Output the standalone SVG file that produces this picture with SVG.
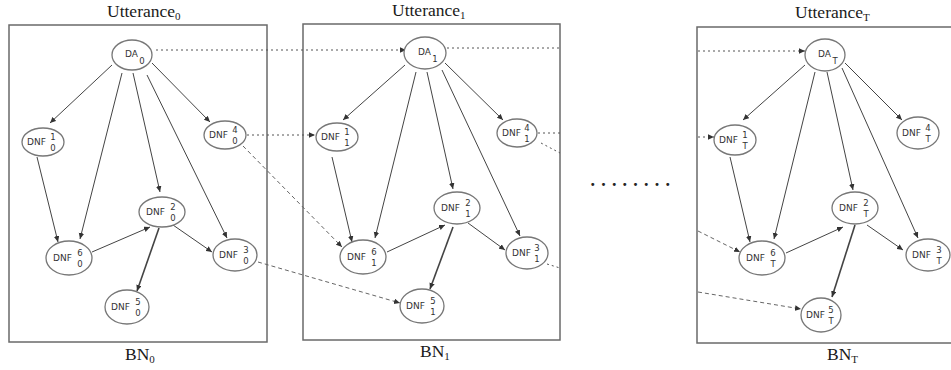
<svg xmlns="http://www.w3.org/2000/svg" width="951" height="370" viewBox="0 0 951 370">
<style>
.frame{fill:none;stroke:#6a6a6a;stroke-width:1.5}
.title{font-family:"Liberation Serif",serif;font-size:17.5px;fill:#1a1a1a}
.tsub{font-size:11px}
.node ellipse{fill:#fff;stroke:#777;stroke-width:1.3}
.lbl{font-family:"DejaVu Sans",sans-serif;font-size:9px;fill:#333}
.ix{font-family:"DejaVu Sans",sans-serif;font-size:8.5px;fill:#333;text-anchor:middle}
.e{fill:none;stroke:#444;stroke-width:1;marker-end:url(#ah)}
.thick{stroke-width:1.6}
.dot{fill:none;stroke:#555;stroke-width:1;stroke-dasharray:2 3}
.dash{fill:none;stroke:#666;stroke-width:1;stroke-dasharray:4 3}
.dots{font-family:"Liberation Serif",serif;font-size:18px;font-weight:bold;fill:#222;letter-spacing:6.2px}
</style>
<defs>
<marker id="ah" markerUnits="userSpaceOnUse" markerWidth="7" markerHeight="6" refX="6" refY="2.75" orient="auto">
<path d="M0,0 L6,2.75 L0,5.5 z" fill="#333"/>
</marker>
</defs>
<rect width="951" height="370" fill="#fff"/>

<g id="bn0">
<rect class="frame" x="9" y="25" width="258" height="317"/>
<text class="title" x="107" y="17">Utterance<tspan class="tsub" dy="3">0</tspan></text>
<text class="title" x="125" y="360">BN<tspan class="tsub" dy="3">0</tspan></text>
</g>
<g id="bn1">
<rect class="frame" x="303" y="24" width="257" height="316"/>
<text class="title" x="392" y="16">Utterance<tspan class="tsub" dy="3">1</tspan></text>
<text class="title" x="420" y="357">BN<tspan class="tsub" dy="3">1</tspan></text>
</g>
<g id="bnT">
<rect class="frame" x="697" y="27" width="262" height="316"/>
<text class="title" x="795" y="18">Utterance<tspan class="tsub" dy="3">T</tspan></text>
<text class="title" x="827" y="360">BN<tspan class="tsub" dy="3">T</tspan></text>
</g>
<text id="ellipsis" class="dots" x="590.5" y="186">........</text>

<g id="connectors">
<!-- BN0 -->
<line class="e" x1="112" y1="65" x2="50" y2="123"/>
<line class="e" x1="122" y1="73" x2="80" y2="239"/>
<line class="e" x1="133" y1="73" x2="160" y2="192"/>
<line class="e" x1="147" y1="75" x2="227" y2="238"/>
<line class="e" x1="152" y1="63" x2="210" y2="122"/>
<line class="e" x1="37" y1="157" x2="58" y2="242"/>
<line class="e" x1="92" y1="252" x2="150" y2="227"/>
<line class="e" x1="173" y1="225" x2="212" y2="252"/>
<line class="e thick" x1="159" y1="228" x2="137" y2="291"/>
<!-- BN1 -->
<line class="e" x1="405" y1="65" x2="343" y2="120"/>
<line class="e" x1="416" y1="72" x2="375" y2="238"/>
<line class="e" x1="427" y1="72" x2="453" y2="189"/>
<line class="e" x1="442" y1="70" x2="520" y2="236"/>
<line class="e" x1="445" y1="63" x2="503" y2="120"/>
<line class="e" x1="332" y1="157" x2="352" y2="242"/>
<line class="e" x1="387" y1="252" x2="445" y2="225"/>
<line class="e" x1="468" y1="223" x2="505" y2="250"/>
<line class="e thick" x1="453" y1="227" x2="430" y2="289"/>
<!-- BNT -->
<line class="e" x1="805" y1="65" x2="743" y2="120"/>
<line class="e" x1="815" y1="72" x2="774" y2="239"/>
<line class="e" x1="827" y1="72" x2="853" y2="190"/>
<line class="e" x1="842" y1="68" x2="918" y2="238"/>
<line class="e" x1="845" y1="63" x2="902" y2="120"/>
<line class="e" x1="730" y1="157" x2="750" y2="242"/>
<line class="e" x1="786" y1="253" x2="843" y2="227"/>
<line class="e" x1="867" y1="225" x2="903" y2="250"/>
<line class="e thick" x1="855" y1="225" x2="832" y2="297"/>
<!-- temporal links -->
<line class="dot" x1="156" y1="50" x2="406" y2="50" marker-end="url(#ah)"/>
<line class="dot" x1="447" y1="48" x2="560" y2="48"/>
<line class="dot" x1="247" y1="135" x2="315" y2="135" marker-end="url(#ah)"/>
<line class="dash" x1="243" y1="146" x2="342" y2="247" marker-end="url(#ah)"/>
<line class="dash" x1="258" y1="262" x2="400" y2="303" marker-end="url(#ah)"/>
<line class="dot" x1="538" y1="133" x2="560" y2="133"/>
<line class="dot" x1="541" y1="143" x2="560" y2="153"/>
<line class="dot" x1="547" y1="264" x2="560" y2="268"/>
<line class="dot" x1="698" y1="51" x2="805" y2="51" marker-end="url(#ah)"/>
<line class="dot" x1="698" y1="137" x2="714" y2="137" marker-end="url(#ah)"/>
<line class="dash" x1="698" y1="231" x2="740" y2="252" marker-end="url(#ah)"/>
<line class="dash" x1="698" y1="292" x2="801" y2="309" marker-end="url(#ah)"/>
</g>

<!-- BN0 nodes -->
<g id="da0" class="node"><ellipse cx="132" cy="55" rx="20" ry="15"/><text class="lbl" x="125" y="57">DA</text><text class="ix" x="142" y="64">0</text></g>
<g id="dnf0-1" class="node"><ellipse cx="43" cy="142" rx="21" ry="14"/><text class="lbl" x="27" y="145">DNF</text><text class="ix" x="53" y="140">1</text><text class="ix" x="53" y="151">0</text></g>
<g id="dnf0-4" class="node"><ellipse cx="225" cy="135" rx="21" ry="14"/><text class="lbl" x="209" y="138">DNF</text><text class="ix" x="235" y="133">4</text><text class="ix" x="235" y="144">0</text></g>
<g id="dnf0-2" class="node"><ellipse cx="162" cy="212" rx="23" ry="15"/><text class="lbl" x="146" y="215">DNF</text><text class="ix" x="173" y="210">2</text><text class="ix" x="173" y="221">0</text></g>
<g id="dnf0-6" class="node"><ellipse cx="69" cy="258" rx="23" ry="17"/><text class="lbl" x="53" y="261">DNF</text><text class="ix" x="80" y="256">6</text><text class="ix" x="80" y="267">0</text></g>
<g id="dnf0-3" class="node"><ellipse cx="235" cy="255" rx="22" ry="16"/><text class="lbl" x="219" y="258">DNF</text><text class="ix" x="246" y="253">3</text><text class="ix" x="246" y="264">0</text></g>
<g id="dnf0-5" class="node"><ellipse cx="127" cy="307" rx="22" ry="17"/><text class="lbl" x="111" y="310">DNF</text><text class="ix" x="138" y="305">5</text><text class="ix" x="138" y="316">0</text></g>

<!-- BN1 nodes -->
<g id="da1" class="node"><ellipse cx="425" cy="53" rx="21" ry="16"/><text class="lbl" x="418" y="55">DA</text><text class="ix" x="435" y="62">1</text></g>
<g id="dnf1-1" class="node"><ellipse cx="337" cy="137" rx="21" ry="14"/><text class="lbl" x="321" y="140">DNF</text><text class="ix" x="347" y="135">1</text><text class="ix" x="347" y="146">1</text></g>
<g id="dnf1-4" class="node"><ellipse cx="517" cy="133" rx="20" ry="14"/><text class="lbl" x="502" y="136">DNF</text><text class="ix" x="527" y="131">4</text><text class="ix" x="527" y="142">1</text></g>
<g id="dnf1-2" class="node"><ellipse cx="457" cy="208" rx="23" ry="16"/><text class="lbl" x="441" y="211">DNF</text><text class="ix" x="468" y="206">2</text><text class="ix" x="468" y="217">1</text></g>
<g id="dnf1-6" class="node"><ellipse cx="363" cy="257" rx="23" ry="17"/><text class="lbl" x="347" y="260">DNF</text><text class="ix" x="374" y="255">6</text><text class="ix" x="374" y="266">1</text></g>
<g id="dnf1-3" class="node"><ellipse cx="527" cy="253" rx="21" ry="16"/><text class="lbl" x="512" y="256">DNF</text><text class="ix" x="537" y="251">3</text><text class="ix" x="537" y="262">1</text></g>
<g id="dnf1-5" class="node"><ellipse cx="422" cy="306" rx="22" ry="17"/><text class="lbl" x="406" y="309">DNF</text><text class="ix" x="433" y="304">5</text><text class="ix" x="433" y="315">1</text></g>

<!-- BNT nodes -->
<g id="daT" class="node"><ellipse cx="825" cy="55" rx="20" ry="16"/><text class="lbl" x="818" y="57">DA</text><text class="ix" x="835" y="64">T</text></g>
<g id="dnfT-1" class="node"><ellipse cx="735" cy="140" rx="21" ry="15"/><text class="lbl" x="719" y="143">DNF</text><text class="ix" x="745" y="138">1</text><text class="ix" x="745" y="149">T</text></g>
<g id="dnfT-4" class="node"><ellipse cx="918" cy="133" rx="21" ry="16"/><text class="lbl" x="902" y="136">DNF</text><text class="ix" x="928" y="131">4</text><text class="ix" x="928" y="142">T</text></g>
<g id="dnfT-2" class="node"><ellipse cx="855" cy="208" rx="23" ry="16"/><text class="lbl" x="839" y="211">DNF</text><text class="ix" x="866" y="206">2</text><text class="ix" x="866" y="217">T</text></g>
<g id="dnfT-6" class="node"><ellipse cx="762" cy="258" rx="23" ry="17"/><text class="lbl" x="746" y="261">DNF</text><text class="ix" x="773" y="256">6</text><text class="ix" x="773" y="267">T</text></g>
<g id="dnfT-3" class="node"><ellipse cx="928" cy="255" rx="22" ry="16"/><text class="lbl" x="912" y="258">DNF</text><text class="ix" x="939" y="253">3</text><text class="ix" x="939" y="264">T</text></g>
<g id="dnfT-5" class="node"><ellipse cx="821" cy="315" rx="20" ry="17"/><text class="lbl" x="806" y="318">DNF</text><text class="ix" x="831" y="313">5</text><text class="ix" x="831" y="324">T</text></g>
</svg>
